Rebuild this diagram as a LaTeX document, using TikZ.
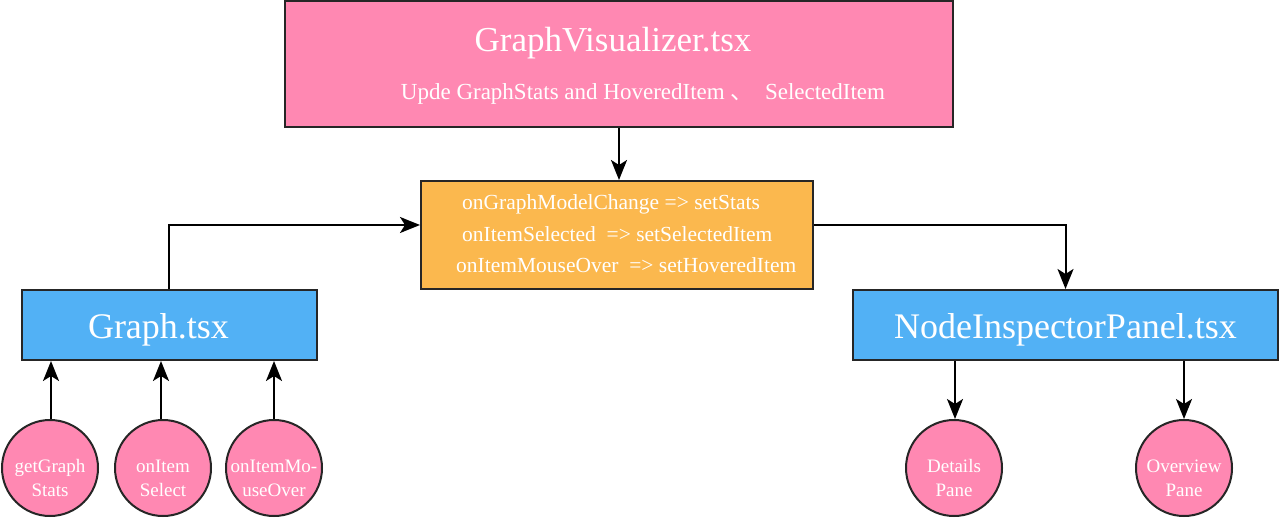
\documentclass[tikz,border=0pt]{standalone}
\usepackage{fontspec}
\usepackage{xcolor}
\usepackage{tikz}
\usetikzlibrary{arrows.meta}
\setmainfont{Liberation Serif}
\newfontfamily\cjk{Noto Sans CJK SC}

\definecolor{pinkfill}{HTML}{FF88B2}
\definecolor{orangefill}{HTML}{FBB84E}
\definecolor{bluefill}{HTML}{52B1F5}

\tikzset{
    box/.style={draw=black!85, line width=2pt, inner sep=0pt, text=white},
    filebox/.style={box, fill=bluefill, minimum height=70pt, text height=34pt, text depth=8pt, font=\fontsize{36}{38}\selectfont},
    bubble/.style={circle, draw=black!85, line width=2pt, fill=pinkfill, minimum size=96pt, inner sep=0pt},
    bubbletext/.style={text=white, align=center, inner sep=0pt, yshift=-10pt, font=\fontsize{19}{24}\selectfont},
    link/.style={-{Stealth[length=20pt, width=16pt, inset=5pt]}, line width=2pt}
}

\begin{document}
\begin{tikzpicture}[x=1pt, y=-1pt]
        \useasboundingbox (0,0) rectangle (1279,518);

        % boxes
        \node[box, fill=pinkfill, minimum width=668pt, minimum height=126pt] (vis) at (619,64) {};
        \node[text=white, font=\fontsize{35}{38}\selectfont] (vistitle) at (613,43) {GraphVisualizer.tsx};
        \node[text=white, font=\fontsize{23}{26}\selectfont] (vissub) at (643,94) {Upde GraphStats and HoveredItem {\cjk 、}\ \ SelectedItem};

        \node[box, fill=orangefill, minimum width=392pt, minimum height=108pt] (hooks) at (617,235) {};
        \node[text=white, align=left, anchor=west, inner sep=0pt, font=\fontsize{21.5}{31.5}\selectfont] (hooktext) at (462,234)
            {onGraphModelChange => setStats\\onItemSelected \ => setSelectedItem\\\hspace*{-6pt}onItemMouseOver \ => setHoveredItem};

        \node[filebox, minimum width=295pt] (graph) at (169.5,325) {Graph.tsx\hspace*{22pt}};
        \node[filebox, minimum width=425pt] (panel) at (1065.5,325) {NodeInspectorPanel.tsx};

        % circles
        \node[bubble, label={[bubbletext]center:getGraph\\Stats}] (stats) at (50,468) {};
        \node[bubble, label={[bubbletext]center:onItem\\Select}] (select) at (163,468) {};
        \node[bubble, label={[bubbletext]center:onItemMo-\\useOver}] (hover) at (274,468) {};
        \node[bubble, label={[bubbletext]center:Details\\Pane}] (details) at (954,468) {};
        \node[bubble, label={[bubbletext]center:Overview\\Pane}] (overview) at (1184,468) {};

        % connectors
        \draw[link] (vis.south -| 619,0) -- (hooks.north -| 619,0);
        \draw[link] (graph.north -| 169,0) |- ([yshift=10pt]hooks.west);
        \draw[link] ([yshift=10pt]hooks.east) -| (panel.north);
        \draw[link] (stats.north -| 51,0) -- (graph.south -| 51,0);
        \draw[link] (select.north -| 161,0) -- (graph.south -| 161,0);
        \draw[link] (hover.north -| 274,0) -- (graph.south -| 274,0);
        \draw[link] (panel.south -| 955,0) -- (details.north -| 955,0);
        \draw[link] (panel.south -| 1184,0) -- (overview.north);
    \end{tikzpicture}
\end{document}
